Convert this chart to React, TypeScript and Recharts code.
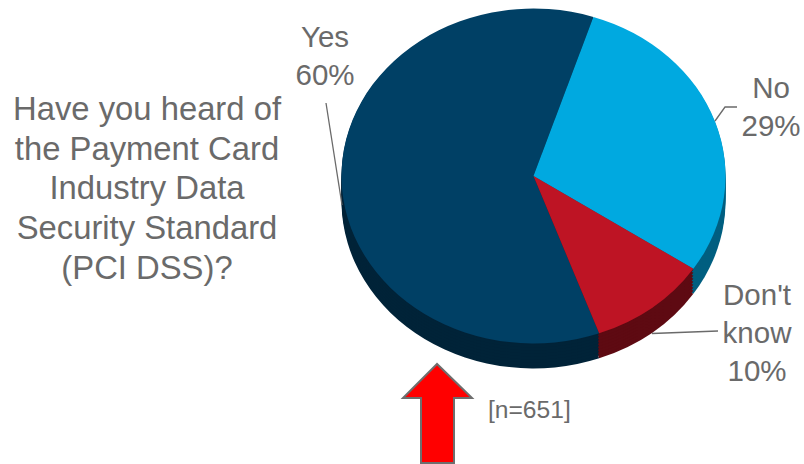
import { PieChart, Pie, Cell, Sector } from 'recharts'

const categories = ['Yes', 'No', "Don't know"]
const shares = [60, 29, 10]
const topColors = ['#004065', '#00A9E0', '#BE1424']
const sideColors = ['#002338', '#005F80', '#5E0A12']

const data = categories.map((name, i) => ({ name, value: shares[i] }))

const titleLines = [
  'Have you heard of',
  'the Payment Card',
  'Industry Data',
  'Security Standard',
  '(PCI DSS)?',
]

// slice depth in px, painted from the bottom of the wall up to the top face
const wallOffsets = [25, 22, 19, 16, 13, 10, 7, 4, 1]

const CX = 533.5
const CY = 176
const RADIUS = 192
const SQUASH = 0.872
const GREY = '#6A6A6A'
const FONT = '"Liberation Sans", Arial, sans-serif'

// where each slice's label sits: centre x and first baseline
const labelSpots = [
  { x: 325, y: 47 },
  { x: 771, y: 98 },
  { x: 757, y: 305 },
]
const leaders = [
  '326,103 342,205',
  '715,121 725,107 737,107',
  '652,333.5 718,331',
]

function FlatSector(props: any) {
  const { cy } = props
  return (
    <g transform={`translate(0 ${cy}) scale(1 ${SQUASH}) translate(0 ${-cy})`}>
      <Sector {...props} />
    </g>
  )
}

function SliceLabel({ index }: any) {
  const spot = labelSpots[index]
  const lines = [...categories[index].split(' '), `${shares[index]}%`]
  return (
    <text x={spot.x} y={spot.y} fill={GREY} fontSize={29.5} fontFamily={FONT} textAnchor="middle">
      {lines.map((line, i) => (
        <tspan key={line} x={spot.x} dy={i === 0 ? 0 : 38}>
          {line}
        </tspan>
      ))}
    </text>
  )
}

function LeaderLine({ index }: any) {
  return <polyline points={leaders[index]} fill="none" stroke={GREY} strokeWidth={1.3} />
}

export default function App() {
  return (
    <div style={{ position: 'absolute', left: 0, top: 0, width: 804, height: 464 }}>
      <PieChart width={804} height={464} margin={{ top: 0, right: 0, bottom: 0, left: 0 }}>
        {wallOffsets.map((offset) => (
          <Pie
            key={offset}
            data={data}
            dataKey="value"
            nameKey="name"
            cx={CX}
            cy={CY + offset}
            outerRadius={RADIUS}
            startAngle={-70}
            endAngle={-430}
            stroke="none"
            shape={FlatSector}
            isAnimationActive={false}
          >
            {sideColors.map((color) => (
              <Cell key={color} fill={color} />
            ))}
          </Pie>
        ))}
        <Pie
          data={data}
          dataKey="value"
          nameKey="name"
          cx={CX}
          cy={CY}
          outerRadius={RADIUS}
          startAngle={-70}
          endAngle={-430}
          stroke="none"
          shape={FlatSector}
          label={SliceLabel}
          labelLine={LeaderLine}
          isAnimationActive={false}
        >
          {topColors.map((color) => (
            <Cell key={color} fill={color} />
          ))}
        </Pie>
        <text x={147} y={120} fill={GREY} fontSize={32.8} fontFamily={FONT} textAnchor="middle">
          {titleLines.map((line, i) => (
            <tspan key={line} x={147} dy={i === 0 ? 0 : 39.7}>
              {line}
            </tspan>
          ))}
        </text>
        <polygon
          points="437,364 403,398 421,398 421,463 454,463 454,398 472,398"
          fill="#FF0000"
          stroke="#6E6E6E"
          strokeWidth={2}
        />
        <text x={488} y={418} fill={GREY} fontSize={24.6} fontFamily={FONT}>
          [n=651]
        </text>
      </PieChart>
    </div>
  )
}
